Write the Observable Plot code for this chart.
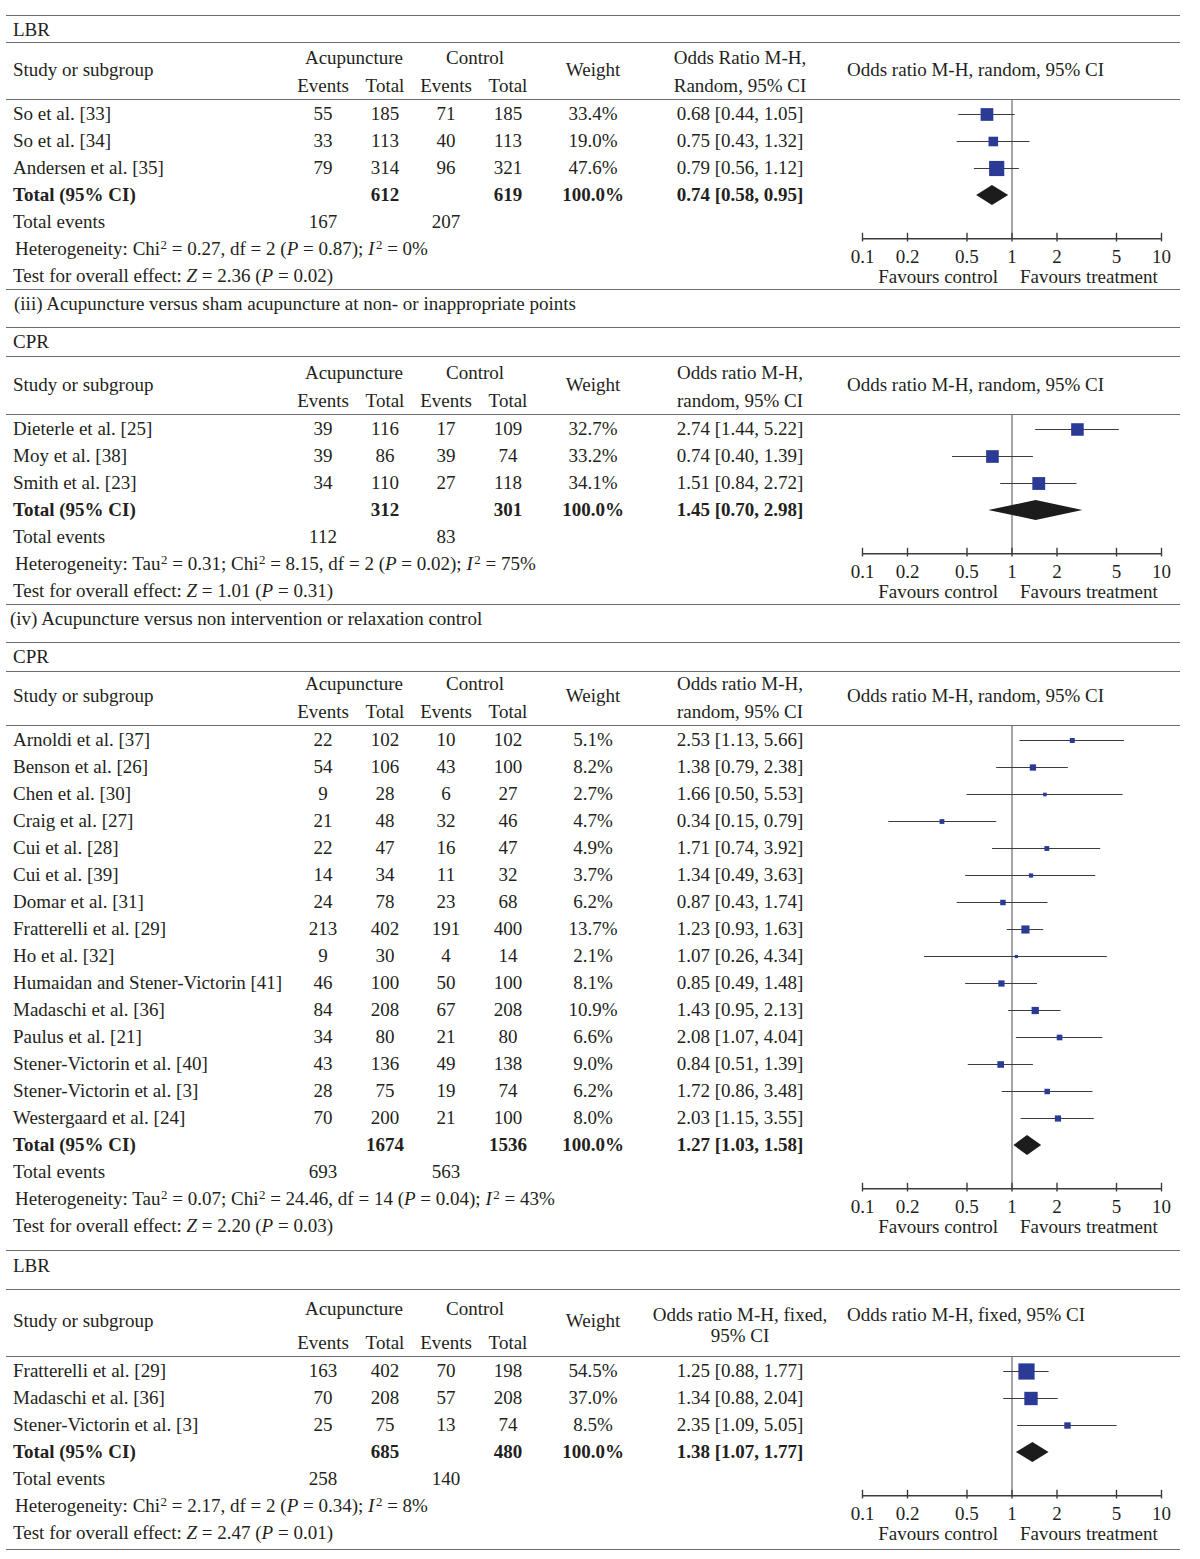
<!DOCTYPE html>
<html><head><meta charset="utf-8">
<script src="https://cdn.jsdelivr.net/npm/d3@7"></script>
<script src="https://cdn.jsdelivr.net/npm/@observablehq/plot@0.6"></script>
<style>
body{margin:0;background:#fff;}
#root{position:relative;width:1200px;height:1559px;font-family:"Liberation Serif","DejaVu Serif",serif;font-size:19px;color:#231f20;}
.t{position:absolute;white-space:nowrap;line-height:1;transform:translateY(-50%);margin-top:-1px;}
.c{transform:translate(-50%,-50%);}
.b{font-weight:bold;}
.rule{position:absolute;left:6px;width:1174px;height:0;border-top:1.6px solid #6e6e6e;}
.t sup{font-size:0.68em;vertical-align:0;position:relative;top:-0.5em;line-height:0;margin-left:0.5px;}
.t sup.si{margin-left:1.5px;}
.plotbox{position:absolute;left:840px;}
</style></head><body><div id="root"></div><script>
// ---------- DATA ----------
const tickValues = [0.1, 0.2, 0.5, 1, 2, 5, 10];
const favourLabels = ["Favours control", "Favours treatment"];
const columnHeaders = ["Study or subgroup", "Acupuncture", "Control", "Events", "Total", "Weight"];

// Section A: LBR (random)
const lbrRandStudies = ["So et al. [33]", "So et al. [34]", "Andersen et al. [35]"];
const lbrRandAcu = [[55, 185], [33, 113], [79, 314]];
const lbrRandCtl = [[71, 185], [40, 113], [96, 321]];
const lbrRandWeight = [33.4, 19.0, 47.6];
const lbrRandOR = [[0.68, 0.44, 1.05], [0.75, 0.43, 1.32], [0.79, 0.56, 1.12]];
const lbrRandTotal = {acu: 612, ctl: 619, acuEvents: 167, ctlEvents: 207, or: [0.74, 0.58, 0.95]};
const lbrRandHet = {tau2: null, chi2: "0.27", df: 2, p: "0.87", i2: 0};
const lbrRandTest = {z: "2.36", p: "0.02"};

// Section B: CPR, sham acupuncture
const cprShamStudies = ["Dieterle et al. [25]", "Moy et al. [38]", "Smith et al. [23]"];
const cprShamAcu = [[39, 116], [39, 86], [34, 110]];
const cprShamCtl = [[17, 109], [39, 74], [27, 118]];
const cprShamWeight = [32.7, 33.2, 34.1];
const cprShamOR = [[2.74, 1.44, 5.22], [0.74, 0.40, 1.39], [1.51, 0.84, 2.72]];
const cprShamTotal = {acu: 312, ctl: 301, acuEvents: 112, ctlEvents: 83, or: [1.45, 0.70, 2.98]};
const cprShamHet = {tau2: "0.31", chi2: "8.15", df: 2, p: "0.02", i2: 75};
const cprShamTest = {z: "1.01", p: "0.31"};

// Section C: CPR, non intervention
const cprNonStudies = ["Arnoldi et al. [37]", "Benson et al. [26]", "Chen et al. [30]", "Craig et al. [27]",
  "Cui et al. [28]", "Cui et al. [39]", "Domar et al. [31]", "Fratterelli et al. [29]", "Ho et al. [32]",
  "Humaidan and Stener-Victorin [41]", "Madaschi et al. [36]", "Paulus et al. [21]",
  "Stener-Victorin et al. [40]", "Stener-Victorin et al. [3]", "Westergaard et al. [24]"];
const cprNonAcu = [[22, 102], [54, 106], [9, 28], [21, 48], [22, 47], [14, 34], [24, 78], [213, 402], [9, 30],
  [46, 100], [84, 208], [34, 80], [43, 136], [28, 75], [70, 200]];
const cprNonCtl = [[10, 102], [43, 100], [6, 27], [32, 46], [16, 47], [11, 32], [23, 68], [191, 400], [4, 14],
  [50, 100], [67, 208], [21, 80], [49, 138], [19, 74], [21, 100]];
const cprNonWeight = [5.1, 8.2, 2.7, 4.7, 4.9, 3.7, 6.2, 13.7, 2.1, 8.1, 10.9, 6.6, 9.0, 6.2, 8.0];
const cprNonOR = [[2.53, 1.13, 5.66], [1.38, 0.79, 2.38], [1.66, 0.50, 5.53], [0.34, 0.15, 0.79],
  [1.71, 0.74, 3.92], [1.34, 0.49, 3.63], [0.87, 0.43, 1.74], [1.23, 0.93, 1.63], [1.07, 0.26, 4.34],
  [0.85, 0.49, 1.48], [1.43, 0.95, 2.13], [2.08, 1.07, 4.04], [0.84, 0.51, 1.39], [1.72, 0.86, 3.48],
  [2.03, 1.15, 3.55]];
const cprNonTotal = {acu: 1674, ctl: 1536, acuEvents: 693, ctlEvents: 563, or: [1.27, 1.03, 1.58]};
const cprNonHet = {tau2: "0.07", chi2: "24.46", df: 14, p: "0.04", i2: 43};
const cprNonTest = {z: "2.20", p: "0.03"};

// Section D: LBR (fixed)
const lbrFixStudies = ["Fratterelli et al. [29]", "Madaschi et al. [36]", "Stener-Victorin et al. [3]"];
const lbrFixAcu = [[163, 402], [70, 208], [25, 75]];
const lbrFixCtl = [[70, 198], [57, 208], [13, 74]];
const lbrFixWeight = [54.5, 37.0, 8.5];
const lbrFixOR = [[1.25, 0.88, 1.77], [1.34, 0.88, 2.04], [2.35, 1.09, 5.05]];
const lbrFixTotal = {acu: 685, ctl: 480, acuEvents: 258, ctlEvents: 140, or: [1.38, 1.07, 1.77]};
const lbrFixHet = {tau2: null, chi2: "2.17", df: 2, p: "0.34", i2: 8};
const lbrFixTest = {z: "2.47", p: "0.01"};

const outcomeLabels = ["LBR", "CPR", "CPR", "LBR"];
const orHeaders = [["Odds Ratio M-H,", "Random, 95% CI"], ["Odds ratio M-H,", "random, 95% CI"],
  ["Odds ratio M-H,", "random, 95% CI"], ["Odds ratio M-H, fixed,", "95% CI"]];
const forestHeaders = ["Odds ratio M-H, random, 95% CI", "Odds ratio M-H, random, 95% CI",
  "Odds ratio M-H, random, 95% CI", "Odds ratio M-H, fixed, 95% CI"];
const captions = ["(iii) Acupuncture versus sham acupuncture at non- or inappropriate points",
  "(iv) Acupuncture versus non intervention or relaxation control", null, null];

// ---------- LAYOUT (pixels, separate from data) ----------
const layout = [
  {ruleTop: 16, labelY: 30, ruleLabel: 43, hdr: [58, 70, 86], orHdr: [58, 86], forestHdr: 70, ruleHdr: 100, firstRow: 114, ruleBottom: 290, captionY: 304, captionX: 14},
  {ruleTop: 328, labelY: 342, ruleLabel: 357, hdr: [373, 385, 401], orHdr: [373, 401], forestHdr: 385, ruleHdr: 415, firstRow: 429, ruleBottom: 605, captionY: 619, captionX: 10},
  {ruleTop: 643, labelY: 657, ruleLabel: 672, hdr: [684, 696, 712], orHdr: [684, 712], forestHdr: 696, ruleHdr: 726, firstRow: 740, ruleBottom: 1251},
  {ruleTop: null, labelY: 1266, ruleLabel: 1290, hdr: [1309, 1321, 1343], orHdr: [1315, 1336], forestHdr: 1315, ruleHdr: 1357, firstRow: 1371, ruleBottom: 1550}
];
const col = {study: 13, stat: 15, acuEv: 323, acuTot: 385, ctlEv: 446, ctlTot: 508, acuHdr: 354, ctlHdr: 475, weight: 593, or: 740, forest: 847};
const ROW = 27;
const FONT = '"Liberation Serif", "DejaVu Serif", serif';
const FS = 19;

const sections = [
  {studies: lbrRandStudies, acu: lbrRandAcu, ctl: lbrRandCtl, weight: lbrRandWeight, or: lbrRandOR, total: lbrRandTotal, het: lbrRandHet, test: lbrRandTest},
  {studies: cprShamStudies, acu: cprShamAcu, ctl: cprShamCtl, weight: cprShamWeight, or: cprShamOR, total: cprShamTotal, het: cprShamHet, test: cprShamTest},
  {studies: cprNonStudies, acu: cprNonAcu, ctl: cprNonCtl, weight: cprNonWeight, or: cprNonOR, total: cprNonTotal, het: cprNonHet, test: cprNonTest},
  {studies: lbrFixStudies, acu: lbrFixAcu, ctl: lbrFixCtl, weight: lbrFixWeight, or: lbrFixOR, total: lbrFixTotal, het: lbrFixHet, test: lbrFixTest}
];

// ---------- RENDER ----------
const root = document.getElementById("root");
function txt(x, y, html, center = false, bold = false) {
  const d = document.createElement("div");
  d.className = "t" + (center ? " c" : "") + (bold ? " b" : "");
  d.style.left = x + "px"; d.style.top = y + "px";
  d.innerHTML = html;
  root.appendChild(d);
}
function rule(y) {
  const d = document.createElement("div");
  d.className = "rule"; d.style.top = (y - 0.8) + "px";
  root.appendChild(d);
}
const fmtOR = (v) => `${v[0].toFixed(2)} [${v[1].toFixed(2)}, ${v[2].toFixed(2)}]`;
const fmtTick = (d) => String(d);

sections.forEach((s, k) => {
  const L = layout[k];
  const n = s.studies.length;
  if (L.ruleTop != null) rule(L.ruleTop);
  txt(col.study, L.labelY, outcomeLabels[k]);
  rule(L.ruleLabel);
  // header
  txt(col.study, L.hdr[1], columnHeaders[0]);
  txt(col.acuHdr, L.hdr[0], columnHeaders[1], true);
  txt(col.ctlHdr, L.hdr[0], columnHeaders[2], true);
  txt(col.acuEv, L.hdr[2], columnHeaders[3], true);
  txt(col.acuTot, L.hdr[2], columnHeaders[4], true);
  txt(col.ctlEv, L.hdr[2], columnHeaders[3], true);
  txt(col.ctlTot, L.hdr[2], columnHeaders[4], true);
  txt(col.weight, L.hdr[1], columnHeaders[5], true);
  txt(col.or, L.orHdr[0], orHeaders[k][0], true);
  txt(col.or, L.orHdr[1], orHeaders[k][1], true);
  txt(col.forest, L.forestHdr, forestHeaders[k]);
  rule(L.ruleHdr);
  // studies
  s.studies.forEach((name, i) => {
    const y = L.firstRow + i * ROW;
    txt(col.study, y, name);
    txt(col.acuEv, y, s.acu[i][0], true);
    txt(col.acuTot, y, s.acu[i][1], true);
    txt(col.ctlEv, y, s.ctl[i][0], true);
    txt(col.ctlTot, y, s.ctl[i][1], true);
    txt(col.weight, y, s.weight[i].toFixed(1) + "%", true);
    txt(col.or, y, fmtOR(s.or[i]), true);
  });
  const yT = L.firstRow + n * ROW;
  txt(col.study, yT, "Total (95% CI)", false, true);
  txt(col.acuTot, yT, s.total.acu, true, true);
  txt(col.ctlTot, yT, s.total.ctl, true, true);
  txt(col.weight, yT, "100.0%", true, true);
  txt(col.or, yT, fmtOR(s.total.or), true, true);
  const yE = yT + ROW;
  txt(col.study, yE, "Total events");
  txt(col.acuEv, yE, s.total.acuEvents, true);
  txt(col.ctlEv, yE, s.total.ctlEvents, true);
  const h = s.het;
  const hetHTML = "Heterogeneity: " + (h.tau2 != null ? `Tau<sup>2</sup> = ${h.tau2}; ` : "") +
    `Chi<sup>2</sup> = ${h.chi2}, df = ${h.df} (<i>P</i> = ${h.p}); <i>I</i><sup class="si">2</sup> = ${h.i2}%`;
  txt(col.stat, yE + ROW, hetHTML);
  txt(col.stat - 2, yE + 2 * ROW, `Test for overall effect: <i>Z</i> = ${s.test.z} (<i>P</i> = ${s.test.p})`);
  rule(L.ruleBottom);
  if (captions[k]) txt(L.captionX, L.captionY, captions[k]);

  // ----- forest plot -----
  const svgTop = L.ruleHdr;
  const testRow = n + 3;
  const axisRow = n + 1.6;
  const y0 = L.firstRow - svgTop;
  const height = y0 + testRow * ROW + 14;
  const axisPx = y0 + axisRow * ROW;
  const pts = s.studies.map((name, i) => ({i, est: s.or[i][0], lo: s.or[i][1], hi: s.or[i][2], w: s.weight[i]}));
  const hh = 0.37;
  const [te, tl, th] = s.total.or;
  const diamond = [{x: tl, y1: n, y2: n}, {x: te, y1: n - hh, y2: n + hh}, {x: th, y1: n, y2: n}];
  const plot = Plot.plot({
    width: 340, height,
    marginTop: 0, marginBottom: height - axisPx, marginLeft: 22, marginRight: 19,
    style: {fontFamily: FONT, fontSize: FS + "px", color: "#231f20", background: "transparent", overflow: "visible"},
    x: {type: "log", domain: [0.1, 10], range: [22, 321]},
    y: {type: "linear", domain: [0, 1], range: [y0, y0 + ROW], axis: null},
    r: {type: "sqrt", domain: [0, 100], range: [0, 12.4]},
    marks: [
      Plot.ruleX([1], {y1: -14 / ROW, y2: axisRow, stroke: "#6a6a6a", strokeWidth: 1.2}),
      Plot.ruleY(pts, {y: "i", x1: "lo", x2: "hi", stroke: "#3c3c3c", strokeWidth: 1.2}),
      Plot.dot(pts, {x: "est", y: "i", r: "w", symbol: "square", fill: "#2b3a95", stroke: null}),
      Plot.areaY(diamond, {x: "x", y1: "y1", y2: "y2", fill: "#1c1c1c"}),
      Plot.ruleY([axisRow], {x1: tickValues[0], x2: tickValues[tickValues.length - 1], stroke: "#3c3c3c", strokeWidth: 1.4}),
      Plot.ruleX(tickValues, {y1: axisRow - 0.2, y2: axisRow + 0.12, stroke: "#3c3c3c", strokeWidth: 1.4}),
      Plot.axisX({ticks: tickValues, tickFormat: fmtTick, tickSize: 0, tickPadding: 11, fontSize: FS, anchor: "bottom"}),
      Plot.text([favourLabels[0]], {x: () => 1, y: () => testRow, text: (d) => d, textAnchor: "end", dx: -14, fontSize: FS}),
      Plot.text([favourLabels[1]], {x: () => 1, y: () => testRow, text: (d) => d, textAnchor: "start", dx: 8, fontSize: FS})
    ]
  });
  const box = document.createElement("div");
  box.className = "plotbox";
  box.style.top = svgTop + "px";
  box.appendChild(plot);
  root.appendChild(box);
});
</script></body></html>
